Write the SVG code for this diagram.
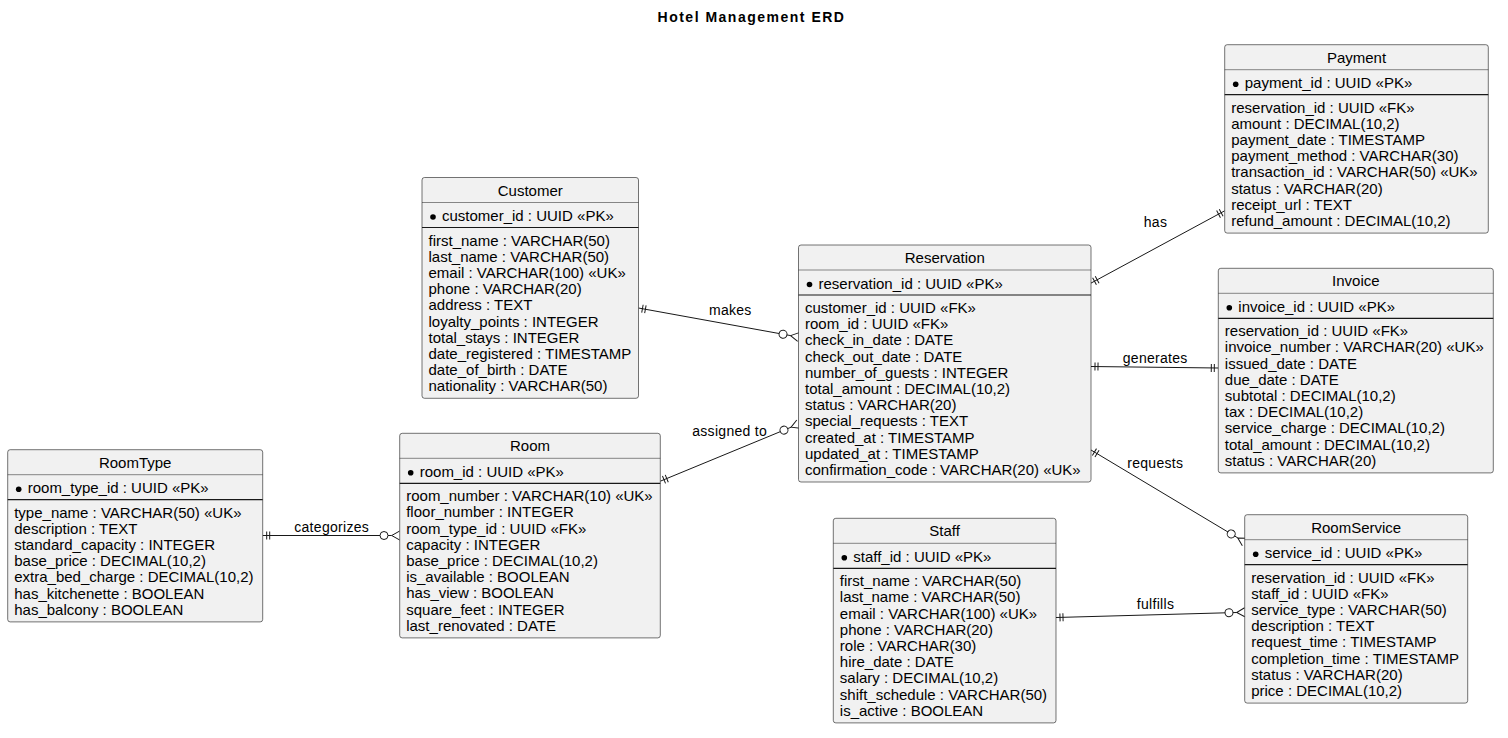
<svg xmlns="http://www.w3.org/2000/svg" width="1508" height="738" viewBox="0 0 1508 738">
<style>
.box{fill:#F1F1F1;stroke:#181818;stroke-width:0.6}
.hd{stroke:#181818;stroke-width:0.5}
.pk{stroke:#181818;stroke-width:1.2}
.t{font-family:"Liberation Sans",Arial,sans-serif;font-size:15px;fill:#000}
.ttl{text-anchor:middle}
.lbl{font-family:"Liberation Sans",Arial,sans-serif;font-size:14px;fill:#000;text-anchor:middle;letter-spacing:0.3px}
.ln{stroke:#181818;stroke-width:1;fill:none}
.title{font-family:"Liberation Sans",Arial,sans-serif;font-size:14px;font-weight:bold;text-anchor:middle;letter-spacing:1.5px}
</style>
<defs>
<marker id="one" markerWidth="1" markerHeight="1" refX="0" refY="0" orient="auto-start-reverse" markerUnits="userSpaceOnUse" overflow="visible"><path d="M-4,-4V4M-7,-4V4" stroke="#181818" stroke-width="1" fill="none"/></marker>
<marker id="many" markerWidth="1" markerHeight="1" refX="0" refY="0" orient="auto" markerUnits="userSpaceOnUse" overflow="visible"><path d="M8,-4.5L0,0L8,4.5" stroke="#181818" stroke-width="1" fill="none"/><circle cx="-7.7" cy="0" r="4" fill="#FFFFFF" stroke="#181818" stroke-width="1"/></marker>
</defs>
<rect width="1508" height="738" fill="#FFFFFF"/>
<text class="title" x="751.5" y="22">Hotel Management ERD</text>

<g id="connectors">
<path class="ln" d="M638.5,308L790.6,335.6" marker-start="url(#one)" marker-end="url(#many)"/>
<text class="lbl" x="730.3" y="315">makes</text>
<path class="ln" d="M660.3,481.2L791.1,427.2" marker-start="url(#one)" marker-end="url(#many)"/>
<text class="lbl" x="729.7" y="436">assigned to</text>
<path class="ln" d="M262.7,535.5L391.7,535.5" marker-start="url(#one)" marker-end="url(#many)"/>
<text class="lbl" x="331.7" y="531.5">categorizes</text>
<path class="ln" d="M1091,283.1L1224.7,210.8" marker-start="url(#one)" marker-end="url(#one)"/>
<text class="lbl" x="1155.5" y="226.5">has</text>
<path class="ln" d="M1091,366.5L1218.3,368" marker-start="url(#one)" marker-end="url(#one)"/>
<text class="lbl" x="1155.2" y="362.5">generates</text>
<path class="ln" d="M1091,450L1237.8,537.9" marker-start="url(#one)" marker-end="url(#many)"/>
<text class="lbl" x="1155.3" y="467.5">requests</text>
<path class="ln" d="M1056,617.5L1236.7,612.5" marker-start="url(#one)" marker-end="url(#many)"/>
<text class="lbl" x="1155.5" y="609">fulfills</text>
</g>

<g id="Customer" transform="translate(422,177.5)">
<rect class="box" width="216.5" height="220.8" rx="2.5"/>
<line class="hd" x1="0" y1="25" x2="216.5" y2="25"/>
<line class="pk" x1="0" y1="50" x2="216.5" y2="50"/>
<text class="t ttl" x="108.25" y="18">Customer</text>
<circle cx="11" cy="39.5" r="2.8"/>
<text class="t" x="20" y="43.5">customer_id : UUID «PK»</text>
<text class="t"><tspan x="6.5" y="68">first_name : VARCHAR(50)</tspan><tspan x="6.5" dy="16.2">last_name : VARCHAR(50)</tspan><tspan x="6.5" dy="16.2">email : VARCHAR(100) «UK»</tspan><tspan x="6.5" dy="16.2">phone : VARCHAR(20)</tspan><tspan x="6.5" dy="16.2">address : TEXT</tspan><tspan x="6.5" dy="16.2">loyalty_points : INTEGER</tspan><tspan x="6.5" dy="16.2">total_stays : INTEGER</tspan><tspan x="6.5" dy="16.2">date_registered : TIMESTAMP</tspan><tspan x="6.5" dy="16.2">date_of_birth : DATE</tspan><tspan x="6.5" dy="16.2">nationality : VARCHAR(50)</tspan></text>
</g>

<g id="Reservation" transform="translate(798.5,245)">
<rect class="box" width="292.5" height="237" rx="2.5"/>
<line class="hd" x1="0" y1="25" x2="292.5" y2="25"/>
<line class="pk" x1="0" y1="50" x2="292.5" y2="50"/>
<text class="t ttl" x="146.25" y="18">Reservation</text>
<circle cx="11" cy="39.5" r="2.8"/>
<text class="t" x="20" y="43.5">reservation_id : UUID «PK»</text>
<text class="t"><tspan x="6.5" y="68">customer_id : UUID «FK»</tspan><tspan x="6.5" dy="16.2">room_id : UUID «FK»</tspan><tspan x="6.5" dy="16.2">check_in_date : DATE</tspan><tspan x="6.5" dy="16.2">check_out_date : DATE</tspan><tspan x="6.5" dy="16.2">number_of_guests : INTEGER</tspan><tspan x="6.5" dy="16.2">total_amount : DECIMAL(10,2)</tspan><tspan x="6.5" dy="16.2">status : VARCHAR(20)</tspan><tspan x="6.5" dy="16.2">special_requests : TEXT</tspan><tspan x="6.5" dy="16.2">created_at : TIMESTAMP</tspan><tspan x="6.5" dy="16.2">updated_at : TIMESTAMP</tspan><tspan x="6.5" dy="16.2">confirmation_code : VARCHAR(20) «UK»</tspan></text>
</g>

<g id="Payment" transform="translate(1224.7,44.7)">
<rect class="box" width="263.6" height="188.4" rx="2.5"/>
<line class="hd" x1="0" y1="25" x2="263.6" y2="25"/>
<line class="pk" x1="0" y1="50" x2="263.6" y2="50"/>
<text class="t ttl" x="131.8" y="18">Payment</text>
<circle cx="11" cy="39.5" r="2.8"/>
<text class="t" x="20" y="43.5">payment_id : UUID «PK»</text>
<text class="t"><tspan x="6.5" y="68">reservation_id : UUID «FK»</tspan><tspan x="6.5" dy="16.2">amount : DECIMAL(10,2)</tspan><tspan x="6.5" dy="16.2">payment_date : TIMESTAMP</tspan><tspan x="6.5" dy="16.2">payment_method : VARCHAR(30)</tspan><tspan x="6.5" dy="16.2">transaction_id : VARCHAR(50) «UK»</tspan><tspan x="6.5" dy="16.2">status : VARCHAR(20)</tspan><tspan x="6.5" dy="16.2">receipt_url : TEXT</tspan><tspan x="6.5" dy="16.2">refund_amount : DECIMAL(10,2)</tspan></text>
</g>

<g id="Invoice" transform="translate(1218.3,268.3)">
<rect class="box" width="275" height="204.6" rx="2.5"/>
<line class="hd" x1="0" y1="25" x2="275" y2="25"/>
<line class="pk" x1="0" y1="50" x2="275" y2="50"/>
<text class="t ttl" x="137.5" y="18">Invoice</text>
<circle cx="11" cy="39.5" r="2.8"/>
<text class="t" x="20" y="43.5">invoice_id : UUID «PK»</text>
<text class="t"><tspan x="6.5" y="68">reservation_id : UUID «FK»</tspan><tspan x="6.5" dy="16.2">invoice_number : VARCHAR(20) «UK»</tspan><tspan x="6.5" dy="16.2">issued_date : DATE</tspan><tspan x="6.5" dy="16.2">due_date : DATE</tspan><tspan x="6.5" dy="16.2">subtotal : DECIMAL(10,2)</tspan><tspan x="6.5" dy="16.2">tax : DECIMAL(10,2)</tspan><tspan x="6.5" dy="16.2">service_charge : DECIMAL(10,2)</tspan><tspan x="6.5" dy="16.2">total_amount : DECIMAL(10,2)</tspan><tspan x="6.5" dy="16.2">status : VARCHAR(20)</tspan></text>
</g>

<g id="RoomType" transform="translate(7.7,449.7)">
<rect class="box" width="255" height="172.2" rx="2.5"/>
<line class="hd" x1="0" y1="25" x2="255" y2="25"/>
<line class="pk" x1="0" y1="50" x2="255" y2="50"/>
<text class="t ttl" x="127.5" y="18">RoomType</text>
<circle cx="11" cy="39.5" r="2.8"/>
<text class="t" x="20" y="43.5">room_type_id : UUID «PK»</text>
<text class="t"><tspan x="6.5" y="68">type_name : VARCHAR(50) «UK»</tspan><tspan x="6.5" dy="16.2">description : TEXT</tspan><tspan x="6.5" dy="16.2">standard_capacity : INTEGER</tspan><tspan x="6.5" dy="16.2">base_price : DECIMAL(10,2)</tspan><tspan x="6.5" dy="16.2">extra_bed_charge : DECIMAL(10,2)</tspan><tspan x="6.5" dy="16.2">has_kitchenette : BOOLEAN</tspan><tspan x="6.5" dy="16.2">has_balcony : BOOLEAN</tspan></text>
</g>

<g id="Room" transform="translate(399.7,433.3)">
<rect class="box" width="260.6" height="204.6" rx="2.5"/>
<line class="hd" x1="0" y1="25" x2="260.6" y2="25"/>
<line class="pk" x1="0" y1="50" x2="260.6" y2="50"/>
<text class="t ttl" x="130.3" y="18">Room</text>
<circle cx="11" cy="39.5" r="2.8"/>
<text class="t" x="20" y="43.5">room_id : UUID «PK»</text>
<text class="t"><tspan x="6.5" y="68">room_number : VARCHAR(10) «UK»</tspan><tspan x="6.5" dy="16.2">floor_number : INTEGER</tspan><tspan x="6.5" dy="16.2">room_type_id : UUID «FK»</tspan><tspan x="6.5" dy="16.2">capacity : INTEGER</tspan><tspan x="6.5" dy="16.2">base_price : DECIMAL(10,2)</tspan><tspan x="6.5" dy="16.2">is_available : BOOLEAN</tspan><tspan x="6.5" dy="16.2">has_view : BOOLEAN</tspan><tspan x="6.5" dy="16.2">square_feet : INTEGER</tspan><tspan x="6.5" dy="16.2">last_renovated : DATE</tspan></text>
</g>

<g id="Staff" transform="translate(833.3,518.3)">
<rect class="box" width="222.7" height="204.6" rx="2.5"/>
<line class="hd" x1="0" y1="25" x2="222.7" y2="25"/>
<line class="pk" x1="0" y1="50" x2="222.7" y2="50"/>
<text class="t ttl" x="111.35" y="18">Staff</text>
<circle cx="11" cy="39.5" r="2.8"/>
<text class="t" x="20" y="43.5">staff_id : UUID «PK»</text>
<text class="t"><tspan x="6.5" y="68">first_name : VARCHAR(50)</tspan><tspan x="6.5" dy="16.2">last_name : VARCHAR(50)</tspan><tspan x="6.5" dy="16.2">email : VARCHAR(100) «UK»</tspan><tspan x="6.5" dy="16.2">phone : VARCHAR(20)</tspan><tspan x="6.5" dy="16.2">role : VARCHAR(30)</tspan><tspan x="6.5" dy="16.2">hire_date : DATE</tspan><tspan x="6.5" dy="16.2">salary : DECIMAL(10,2)</tspan><tspan x="6.5" dy="16.2">shift_schedule : VARCHAR(50)</tspan><tspan x="6.5" dy="16.2">is_active : BOOLEAN</tspan></text>
</g>

<g id="RoomService" transform="translate(1244.7,514.7)">
<rect class="box" width="223" height="188.4" rx="2.5"/>
<line class="hd" x1="0" y1="25" x2="223" y2="25"/>
<line class="pk" x1="0" y1="50" x2="223" y2="50"/>
<text class="t ttl" x="111.5" y="18">RoomService</text>
<circle cx="11" cy="39.5" r="2.8"/>
<text class="t" x="20" y="43.5">service_id : UUID «PK»</text>
<text class="t"><tspan x="6.5" y="68">reservation_id : UUID «FK»</tspan><tspan x="6.5" dy="16.2">staff_id : UUID «FK»</tspan><tspan x="6.5" dy="16.2">service_type : VARCHAR(50)</tspan><tspan x="6.5" dy="16.2">description : TEXT</tspan><tspan x="6.5" dy="16.2">request_time : TIMESTAMP</tspan><tspan x="6.5" dy="16.2">completion_time : TIMESTAMP</tspan><tspan x="6.5" dy="16.2">status : VARCHAR(20)</tspan><tspan x="6.5" dy="16.2">price : DECIMAL(10,2)</tspan></text>
</g>
</svg>
